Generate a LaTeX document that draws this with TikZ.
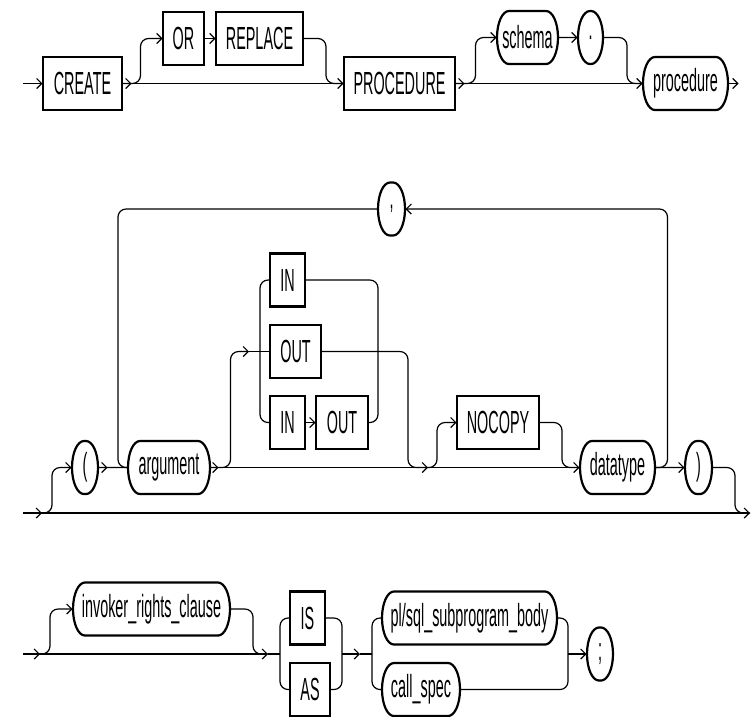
\documentclass[tikz,border=0pt]{standalone}
\usepackage{fontspec}
\setmainfont{Liberation Sans}
\usetikzlibrary{arrows.meta,calc,shapes.misc}

\begin{document}
\begin{tikzpicture}[x=2.2222pt,y=-1pt,xscale=0.45,transform shape,
 >={Straight Barb[length=5pt,width=10pt]},
 kw/.style={draw,line width=2.2pt,minimum height=53pt,minimum width=#1*2.2222pt,inner sep=0pt,font=\fontsize{32}{36}\selectfont},
 nt/.style={kw=#1,rounded rectangle},
 ln/.style={line width=1.2pt,rounded corners=8pt}]
\useasboundingbox (0,0) rectangle (753,716);
% row 1
\node[kw=79] (create) at (82.5,83.5) {CREATE};
\node[kw=41] (or) at (183.5,38.5) {OR};
\node[kw=87] (replace) at (259.5,38.5) {REPLACE};
\node[kw=111] (proc) at (399.5,83.5) {PROCEDURE};
\node[nt=61] (schema) at (527.5,37.5) {schema};
\node[nt=25] (dot) at (590.5,37.5) {.};
\node[nt=85] (procname) at (685.5,83.5) {procedure};
\coordinate (s1) at (23,83.5);
\coordinate (j1) at (326,83.5);
\coordinate (j2) at (627,83.5);
\draw[ln,->] (s1) -- (create.west);
\draw[ln,->] (create.east) -- (proc.west);
\draw[ln,->] (create.east) -- ++(9,0);
\draw[ln,->] (create.east) -- ++(18,0) |- (or.west);
\draw[ln,->] (or) -- (replace);
\draw[ln] (replace.east) -| (j1) -- (proc.west);
\draw[ln,->] (proc.east) -- ++(9,0);
\draw[ln,->] (proc.east) -- (procname.west);
\draw[ln,->] (proc.east) -- ++(20,0) |- (schema.west);
\draw[ln,->] (schema) -- (dot);
\draw[ln] (dot.east) -| (j2) -- (procname.west);
\draw[ln,->] (procname.east) -- ++(10,0);
% row 2
\node[nt=27] (comma) at (391.5,209) {,};
\node[nt=26] (lpar) at (85,467.5) {(};
\node[nt=82] (arg) at (169,467.5) {argument};
\node[kw=35] (in) at (287.5,280) {IN};
\node[kw=51] (out) at (295.5,351.5) {OUT};
\node[kw=35] (inio) at (287.5,422.5) {IN};
\node[kw=52] (outio) at (342,422.5) {OUT};
\node[kw=82] (nocopy) at (498,422.5) {NOCOPY};
\node[nt=75] (dtype) at (617.5,467.5) {datatype};
\node[nt=27] (rpar) at (698.5,467.5) {)};
\coordinate (s2) at (23,513);
\coordinate (e2) at (750,513);
\coordinate (j3) at (118,467.5);
\coordinate (cin) at (249,351.5);
\coordinate (cl) at (260,351.5);
\coordinate (cr) at (378,351.5);
\coordinate (j4) at (408,467.5);
\coordinate (j5) at (428,467.5);
\coordinate (j6) at (562,467.5);
\coordinate (j7) at (735,513);
\draw[ln,->] (s2) -- (e2);
\draw[ln,->] (s2) -- ++(19,0);
\draw[ln,->] (s2) -- ++(29,0) |- (lpar.west);
\draw[ln] (lpar) -- (arg);
\draw[ln,->] (lpar.east) -- ++(9,0);
\draw[ln] (comma.west) -| (j3) -- (arg.west);
\draw[ln,->] (dtype.east) -- ++(12,0) |- (comma.east);
\draw[ln,->] (arg.east) -- ++(8,0);
\draw[ln,->] (arg.east) -- (j5);
\draw[ln,->] (arg.east) -- ++(20,0) |- (cin);
\draw[ln] (cin) -- (out.west);
\draw[ln] (in.west) -| (cl) |- (inio.west);
\draw[ln,->] (inio) -- (outio);
\draw[ln] (in.east) -| (cr) |- (outio.east);
\draw[ln] (out.east) -| (j4) -- (j5);
\draw[ln,->] (j5) -- (dtype.west);
\draw[ln,->] (j5) -- ++(9,0) |- (nocopy.west);
\draw[ln] (nocopy.east) -| (j6) -- (dtype.west);
\draw[ln,->] (dtype) -- (rpar);
\draw[ln] (rpar.east) -| (j7) -- (e2);
% row 3
\node[nt=157] (invoker) at (151.5,609) {invoker\_rights\_clause};
\node[kw=35] (is) at (307.5,618) {IS};
\node[kw=40] (as) at (310,689.5) {AS};
\node[nt=175] (body) at (469.5,618) {pl/sql\_subprogram\_body};
\node[nt=78] (callspec) at (421,689.5) {call\_spec};
\node[nt=26] (semi) at (600,654) {;};
\coordinate (s3) at (23,654);
\coordinate (j8) at (253,654);
\coordinate (j9) at (268,654);
\coordinate (cl3) at (280,654);
\coordinate (cr3) at (342,654);
\coordinate (j10) at (360,654);
\coordinate (cl4) at (372,654);
\coordinate (cr4) at (568,654);
\draw[ln,->] (s3) -- ++(17,0);
\draw[ln,->] (s3) -- (j9);
\draw[ln,->] (s3) -- ++(27,0) |- (invoker.west);
\draw[ln] (invoker.east) -| (j8) -- (j9);
\draw[ln] (j9) -- (cl3);
\draw[ln] (is.west) -| (cl3) |- (as.west);
\draw[ln] (is.east) -| (cr3) |- (as.east);
\draw[ln,->] (cr3) -- (j10);
\draw[ln] (j10) -- (cl4);
\draw[ln] (body.west) -| (cl4) |- (callspec.west);
\draw[ln] (body.east) -| (cr4) |- (callspec.east);
\draw[ln,->] (cr4) -- (semi.west);
\end{tikzpicture}
\end{document}
